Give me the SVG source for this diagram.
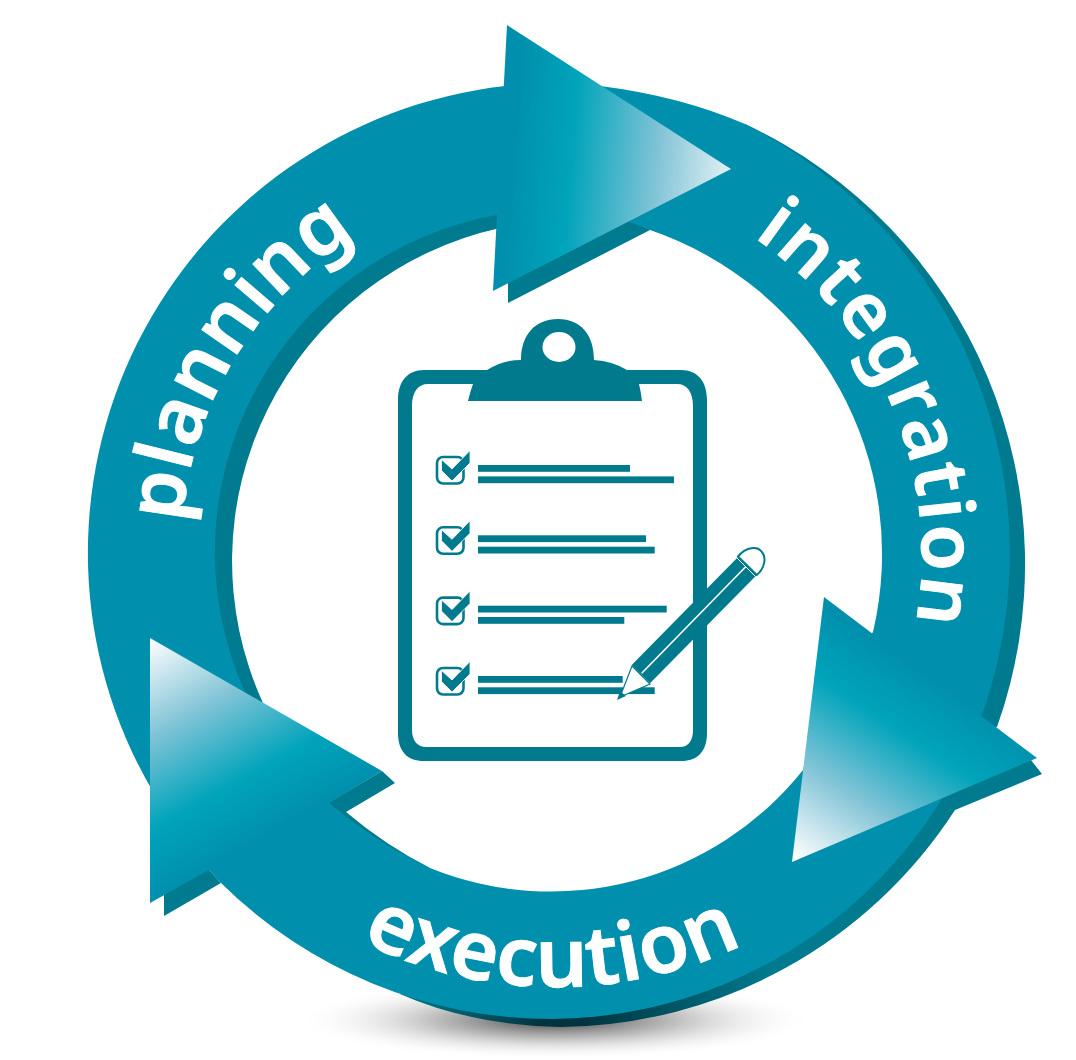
<svg xmlns="http://www.w3.org/2000/svg" width="1076" height="1060" viewBox="0 0 1076 1060">
<defs>
<linearGradient id="g1" gradientUnits="userSpaceOnUse" x1="510" y1="165" x2="752" y2="185"><stop offset="0" stop-color="#008fac"/><stop offset="0.25" stop-color="#00a4bb"/><stop offset="0.6" stop-color="#80c3d6"/><stop offset="1" stop-color="#ffffff"/></linearGradient>
<linearGradient id="g2" gradientUnits="userSpaceOnUse" x1="795" y1="860" x2="921" y2="668"><stop offset="0" stop-color="#ffffff"/><stop offset="0.38" stop-color="#80c3d6"/><stop offset="0.72" stop-color="#00a4bb"/><stop offset="1" stop-color="#008fac"/></linearGradient>
<linearGradient id="g3" gradientUnits="userSpaceOnUse" x1="150" y1="638" x2="262" y2="839"><stop offset="0" stop-color="#ffffff"/><stop offset="0.38" stop-color="#80c3d6"/><stop offset="0.73" stop-color="#00a4bb"/><stop offset="1" stop-color="#008fac"/></linearGradient>
<linearGradient id="gd" gradientUnits="userSpaceOnUse" x1="400" y1="0" x2="770" y2="0"><stop offset="0" stop-color="#007a8e"/><stop offset="0.38" stop-color="#02343f"/><stop offset="0.5" stop-color="#02343f"/><stop offset="1" stop-color="#007a8e"/></linearGradient>
<radialGradient id="gs" gradientUnits="userSpaceOnUse" cx="0" cy="0" r="1" gradientTransform="translate(555 1020) scale(260 40)"><stop offset="0" stop-color="#333" stop-opacity="0.95"/><stop offset="0.45" stop-color="#777" stop-opacity="0.5"/><stop offset="1" stop-color="#fff" stop-opacity="0"/></radialGradient>
<path id="tp1" d="M182.2,522.6 A375 375 0 0 1 459,190"/>
<path id="tp2" d="M753.6,237.3 A382 382 0 0 1 886,715.4"/>
<path id="tp3" d="M361,941 A435 435 0 0 0 760,936"/>
<g id="rowmark">
<rect x="437" y="457" width="26.5" height="26.5" rx="6" fill="#fff" stroke="#027a8e" stroke-width="2.6"/>
<path d="M441.5,459.5 L452,469 L470,450.5 L470,463 L452,481 L441.5,470.5 Z" fill="#027a8e" stroke="#fff" stroke-width="0.8"/>
</g>
</defs>
<style>
.body{fill:#008fac}
.dark{fill:#007a8e}
.ink{fill:#027a8e}
.lab{font-family:"Noto Sans","Open Sans",sans-serif;font-weight:600;fill:#fff;stroke:#fff;stroke-width:0.9}
</style>
<ellipse cx="555" cy="1020" rx="260" ry="40" fill="url(#gs)"/>
<g id="connectors">
<g id="segment-planning">
<path class="dark" d="M500,228 A341 341 0 0 0 263,703 L240,695 A344 344 0 0 1 497,210 Z"/>
<path class="body" d="M160,800 L152,790 A470 470 0 0 1 505,86 L520,200 L497,215 A342 342 0 0 0 245,692 L220,720 Z"/>
</g>
<g id="segment-integration">
<path class="dark" d="M508,303 L650,230 L600,180 L508,270 Z"/>
<path class="dark" d="M745,124 A486 486 0 0 1 997,727 L975,725 L745,130 Z"/>
<path class="body" d="M600,86 Q680,96 745,124 A481 481 0 0 1 982,715 L960,735 L860,650 L873,632 A342 342 0 0 0 650,230 L630,222 L580,200 Z"/>
</g>
<g id="segment-execution">
<path class="dark" d="M328,803 L382,771 L395,783 L346,812 Q385,845 430,868 L400,860 Z"/>
<path class="dark" d="M200,860 L164,885 L164,916 L221,883 Z"/>
<path class="dark" d="M1027,755 L1042,774 L955,810 L900,800 Z"/>
<path fill="url(#gd)" d="M955,810 A475 475 0 0 1 560,1027 Q470,1025 400,994 L600,960 L930,790 Z"/>
<path class="body" d="M195,860 L209,870 L221,883 A470 470 0 0 0 552,1019 A462 462 0 0 0 943,797 L960,770 L810,740 L803,770 A322 322 0 0 1 430,868 Q380,845 329,803 L300,790 Z"/>
</g>
<polygon id="arrow-planning" points="507,25 731,169 493,291" fill="url(#g1)"/>
<polygon id="arrow-integration" points="824,597 1037,758 792,862" fill="url(#g2)"/>
<polygon id="arrow-execution" points="150,638 382,771 329,803 209,870 150,903" fill="url(#g3)"/>
</g>
<g id="label-planning"><text class="lab" font-size="79" letter-spacing="1"><textPath href="#tp1">planning</textPath></text></g>
<g id="label-integration"><text class="lab" font-size="76" letter-spacing="2.5"><textPath href="#tp2">integration</textPath></text></g>
<g id="label-execution"><text class="lab" font-size="82" letter-spacing="0.5"><textPath href="#tp3">execution</textPath></text></g>
<g id="clipboard">
<path class="ink" fill-rule="evenodd" d="M424,370 H681 C698,370 707,382 707,400 V733 C707,751 698,761 681,761 H424 C407,761 398,751 398,733 V400 C398,382 407,370 424,370 Z M428,384 C418,384 412,392 412,406 V730 C412,741 418,747 426,747 H680 C688,747 693,741 693,730 V406 C693,392 687,384 677,384 Z"/>
<path class="ink" d="M468,401 Q470,392 473,384 L487,370 Q503,360 521,360 C521,335 535,319 558,319 C581,319 594,335 594,360 Q612,361 627,370 L639,384 Q641,392 642,401 Z"/>
<ellipse cx="559" cy="347" rx="16.5" ry="15" fill="#fff"/>
</g>
<g id="checklist">
<use href="#rowmark"/>
<use href="#rowmark" y="70.3"/>
<use href="#rowmark" y="140.6"/>
<use href="#rowmark" y="211"/>
<rect class="ink" x="478" y="465" width="152" height="6.8"/>
<rect class="ink" x="478" y="476.4" width="196" height="6.8"/>
<rect class="ink" x="478" y="535.3" width="168" height="6.8"/>
<rect class="ink" x="478" y="546.7" width="176.7" height="6.8"/>
<rect class="ink" x="478" y="605.7" width="188.7" height="6.8"/>
<rect class="ink" x="478" y="617" width="146.3" height="6.8"/>
<rect class="ink" x="478" y="676" width="144.7" height="6.8"/>
<rect class="ink" x="478" y="687.3" width="176.7" height="6.8"/>
</g>
<g id="pencil">
<polygon class="ink" points="631.7,665 738.3,556.7 756.7,575 650,683.3"/>
<line x1="641.7" y1="673.3" x2="745.7" y2="566.7" stroke="#fff" stroke-width="1.6"/>
<path d="M738,556.5 C746,547 757,546 761,551 C767,557 765,568 756.7,575 Z" fill="#fff" stroke="#027a8e" stroke-width="2"/>
<line x1="736" y1="557" x2="755" y2="576" stroke="#fff" stroke-width="1"/>
<path d="M632,666 L650,684 L620,697 Z" fill="#fff" stroke="#027a8e" stroke-width="1.2"/>
<path class="ink" d="M617,700 L620,691 L626,696 Z"/>
</g>
</svg>
